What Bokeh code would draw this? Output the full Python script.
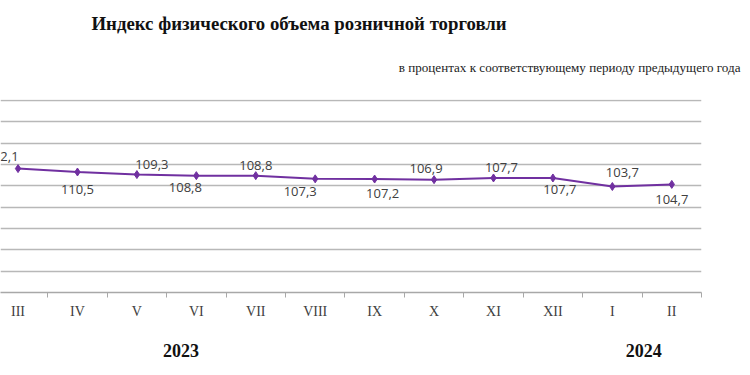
from bokeh.plotting import figure
from bokeh.models import Range1d, FixedTicker, ColumnDataSource, Title, LinearAxis
from bokeh.core.properties import value
from bokeh.embed import file_html
from bokeh.resources import INLINE

# ---- data ----
months = ["III", "IV", "V", "VI", "VII", "VIII", "IX", "X", "XI", "XII", "I", "II"]
index_values = [112.1, 110.5, 109.3, 108.8, 108.8, 107.3, 107.2, 106.9, 107.7, 107.7, 103.7, 104.7]
value_labels = ["112,1", "110,5", "109,3", "108,8", "108,8", "107,3", "107,2", "106,9", "107,7", "107,7", "103,7", "104,7"]
years = ["2023", "2024"]
title_text = "Индекс физического объема розничной торговли"
subtitle_text = "в процентах к соответствующему периоду предыдущего года"

# ---- label placement (pixels, screen) ----
label_dx = [-16, 0, 15, -11, 0, -15, 8, -8, 8, 7, 10, 0]
label_dy = [-12, 17, -10, 12, -10, 13, 14, -11, -10, 12, -14, 15]
year_pos = [2.744, 10.53]

xs = list(range(len(months)))
src = ColumnDataSource(dict(x=xs, y=index_values, lab=value_labels, dx=label_dx, dy=label_dy))

p = figure(width=750, height=375, output_backend="svg", toolbar_location=None,
           x_range=Range1d(-0.295, 11.5), y_range=Range1d(54, 144.5),
           min_border_left=0, min_border_right=49, min_border_top=99, min_border_bottom=83)
p.outline_line_color = None
p.background_fill_color = "white"
p.border_fill_color = "white"

p.yaxis.visible = False
p.xgrid.visible = False
p.ygrid.ticker = FixedTicker(ticks=[54 + 10 * k for k in range(10)])
p.ygrid.grid_line_color = "#b8b8b8"
p.ygrid.grid_line_width = 1.3

ax = p.xaxis[0]
ax.ticker = FixedTicker(ticks=xs, minor_ticks=[i - 0.5 for i in range(len(months) + 1)])
ax.major_label_overrides = {i: m for i, m in enumerate(months)}
ax.major_tick_line_color = None
ax.major_tick_out = 0
ax.major_tick_in = 0
ax.minor_tick_line_color = "#a8a8a8"
ax.minor_tick_out = 5
ax.minor_tick_in = 0
ax.axis_line_color = "#a8a8a8"
ax.axis_line_width = 1.3
ax.major_label_text_font = "Liberation Serif"
ax.major_label_text_font_size = "14px"
ax.major_label_text_color = "#404040"
ax.major_label_standoff = 6

yax = LinearAxis(ticker=FixedTicker(ticks=year_pos),
                 major_label_overrides={x: y for x, y in zip(year_pos, years)})
yax.axis_line_color = None
yax.major_tick_line_color = None
yax.minor_tick_line_color = None
yax.major_tick_out = 0
yax.major_label_standoff = 22
yax.major_label_text_font = "Liberation Serif"
yax.major_label_text_font_size = "18px"
yax.major_label_text_font_style = "bold"
yax.major_label_text_color = "#111111"
p.add_layout(yax, "below")

p.line("x", "y", source=src, line_color="#7030a0", line_width=2)
p.scatter("x", "y", source=src, marker="diamond", size=8, fill_color="#7030a0", line_color="#7030a0")
p.text("x", "y", text="lab", source=src, x_offset="dx", y_offset="dy",
       text_align="center", text_baseline="middle",
       text_font=value("Open Sans"), text_font_size="13px", text_color="#404040")

p.add_layout(Title(text=subtitle_text, align="right", offset=-39, standoff=49,
                   text_font="Liberation Serif", text_font_size="13.1px",
                   text_font_style="normal", text_color="#222222"), "above")
p.add_layout(Title(text=title_text, align="left", offset=91, standoff=0,
                   text_font="Liberation Serif", text_font_size="18.8px",
                   text_font_style="bold", text_color="#111111"), "above")

open("out.html", "w").write(file_html(p, INLINE))
